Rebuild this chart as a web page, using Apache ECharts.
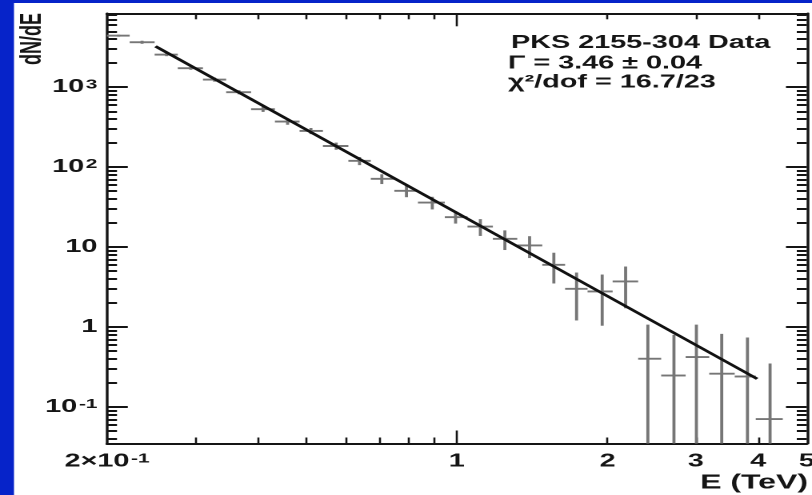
<!DOCTYPE html>
<html>
<head>
<meta charset="utf-8">
<title>PKS 2155-304 spectrum</title>
<script src="https://cdn.jsdelivr.net/npm/echarts@6/dist/echarts.min.js"></script>
<style>
  html, body { margin: 0; padding: 0; overflow: hidden; background: #0623c9; }
  /* the figure is laid out narrow and widened horizontally, like the slide it comes from */
  #chart { position: absolute; left: 0; top: 0; width: 507.5px; height: 495px;
           transform: scaleX(1.6); transform-origin: 0 0; }
</style>
</head>
<body>
<div id="chart"></div>
<script>
const STRETCH = 1.6;
const FONT = '"Liberation Sans", Arial, Helvetica, sans-serif';

// axis ranges (TeV, dN/dE)
const X_MIN = 0.2, X_MAX = 5;
const Y_MIN = 0.035, Y_MAX = 8400;

// measured spectrum: bin centre, bin edges, flux and its error
const energy  = [0.211, 0.235, 0.263, 0.294, 0.328, 0.367, 0.410, 0.459, 0.511, 0.574,
                 0.639, 0.708, 0.793, 0.893, 0.994, 1.114, 1.247, 1.397, 1.562, 1.734,
                 1.951, 2.173, 2.407, 2.714, 3.009, 3.381, 3.806, 4.223];
const binLow  = [0.199, 0.222, 0.249, 0.277, 0.311, 0.346, 0.388, 0.433, 0.485, 0.540,
                 0.607, 0.673, 0.750, 0.836, 0.946, 1.050, 1.180, 1.320, 1.481, 1.645,
                 1.824, 2.047, 2.302, 2.559, 2.864, 3.192, 3.589, 3.954];
const binHigh = [0.222, 0.249, 0.277, 0.311, 0.346, 0.388, 0.433, 0.485, 0.540, 0.607,
                 0.673, 0.750, 0.836, 0.946, 1.050, 1.180, 1.320, 1.481, 1.645, 1.824,
                 2.047, 2.302, 2.559, 2.864, 3.192, 3.589, 3.954, 4.477];
const flux    = [4416, 3651, 2556, 1728, 1245, 866, 531, 372, 284, 184,
                 120, 71.5, 50.6, 36.1, 23.7, 18.1, 12.7, 10.5, 6.01, 3.01,
                 2.79, 3.72, 0.402, 0.248, 0.422, 0.261, 0.241, 0.0708];
const fluxErr = [130, 160, 112, 76, 72, 51, 40, 33, 25, 19,
                 14, 10, 8.5, 6.5, 4.0, 4.3, 3.5, 3.2, 2.5, 1.8,
                 1.75, 2.0, 0.67, 0.55, 0.65, 0.56, 0.50, 0.28];

// power-law fit  dN/dE = N0 * E^-Gamma
const photonIndex = 3.46;
const fluxAt1TeV = 26.8;
const fitRange = [0.25, 3.98];

// tick marks and labels
const xLabelValues = [0.2, 1, 2, 3, 4, 5];
const xLabelTexts  = ['2×10{s|-1}', '1', '2', '3', '4', '5'];
const xMajorTicks  = [1];
const xMinorTicks  = [0.3, 0.4, 0.5, 0.6, 0.7, 0.8, 0.9, 2, 3, 4];
const yLabelValues = [0.1, 1, 10, 100, 1000];
const yLabelTexts  = ['10{s|-1}', '1', '10', '10{s|2}', '10{s|3}'];
const yMajorTicks  = [0.1, 1, 10, 100, 1000];
const yMinorTicks  = [];
[0.01, 0.1, 1, 10, 100, 1000].forEach(function (decade) {
  for (let k = 2; k <= 9; k++) {
    const v = +(k * decade).toPrecision(3);
    if (v > Y_MIN && v < Y_MAX) yMinorTicks.push(v);
  }
});

const errorRows = energy.map(function (e, i) {
  return [e, flux[i], binLow[i], binHigh[i], fluxErr[i]];
});
const fitLine = fitRange.map(function (e) {
  return [e, fluxAt1TeV * Math.pow(e, -photonIndex)];
});

const INK = '#151515';
const labelRich = {
  s: { fontSize: 13, fontWeight: 'bold', fontFamily: FONT, color: INK, verticalAlign: 'top', padding: [0, 0, 0, 1] }
};

function lookupLabel(values, texts) {
  return function (v) {
    for (let i = 0; i < values.length; i++) {
      if (Math.abs(Math.log10(values[i]) - v) < 1e-6) return texts[i];
    }
    return '';
  };
}

// helper axes laid out in log10 space, used only to place tick marks and labels
function tickAxis(position, lo, hi, ticks, len, tickWidth, opts) {
  opts = opts || {};
  return {
    type: 'value',
    position: position,
    gridIndex: 0,
    min: Math.log10(lo),
    max: Math.log10(hi),
    splitLine: { show: false },
    minorTick: { show: false },
    axisLine: { show: !!opts.line, onZero: false, lineStyle: { color: INK, width: opts.lineWidth || 2 } },
    axisTick: {
      show: true, inside: true, length: len,
      customValues: ticks.map(Math.log10),
      lineStyle: { color: INK, width: tickWidth }
    },
    axisLabel: opts.labels ? {
      show: true,
      customValues: opts.labels.values.map(Math.log10),
      formatter: lookupLabel(opts.labels.values, opts.labels.texts),
      margin: opts.labels.margin,
      fontSize: 18, fontWeight: 'bold', fontFamily: FONT, color: INK,
      rich: labelRich
    } : { show: false }
  };
}

const chart = echarts.init(document.getElementById('chart'), null, { renderer: 'canvas', devicePixelRatio: 2 });

chart.setOption({
  animation: false,
  backgroundColor: '#0623c9',
  grid: {
    left: 107 / STRETCH, right: 6 / STRETCH, top: 13.3, bottom: 51.5,
    containLabel: false, outerBoundsMode: 'none'
  },
  graphic: [
    { type: 'rect', z: -100, silent: true,
      shape: { x: 14 / STRETCH, y: 3, width: 600, height: 600 },
      style: { fill: '#ffffff' } },
    { type: 'text', z: 100, x: 33 / STRETCH, y: 13, rotation: Math.PI / 2,
      style: { text: 'dN/dE', fill: INK, font: 'bold 18px ' + FONT, align: 'right', verticalAlign: 'middle' } },
    { type: 'text', z: 100, x: 808 / STRETCH, y: 483,
      style: { text: 'E (TeV)', fill: INK, font: 'bold 20px ' + FONT, align: 'right', verticalAlign: 'middle' } },
    { type: 'text', z: 100, x: 511 / STRETCH, y: 43,
      style: { text: 'PKS 2155-304 Data', fill: INK, font: 'bold 18px ' + FONT, align: 'left', verticalAlign: 'middle' } },
    { type: 'text', z: 100, x: 508 / STRETCH, y: 63.5,
      style: { text: 'Γ = 3.46 ± 0.04', fill: INK, font: 'bold 18px ' + FONT, align: 'left', verticalAlign: 'middle' } },
    { type: 'text', z: 100, x: 508 / STRETCH, y: 82.5,
      style: { text: 'χ²/dof = 16.7/23', fill: INK, font: 'bold 18px ' + FONT, align: 'left', verticalAlign: 'middle' } }
  ],
  xAxis: [
    { type: 'log', logBase: 10, position: 'bottom', gridIndex: 0, min: X_MIN, max: X_MAX,
      axisLine: { show: true, onZero: false, lineStyle: { color: INK, width: 2 } },
      axisTick: { show: false }, axisLabel: { show: false },
      splitLine: { show: false }, minorTick: { show: false } },
    tickAxis('bottom', X_MIN, X_MAX, xMajorTicks, 13, 1.3,
      { labels: { values: xLabelValues, texts: xLabelTexts, margin: 9 } }),
    tickAxis('bottom', X_MIN, X_MAX, xMinorTicks, 6, 1.3),
    tickAxis('top', X_MIN, X_MAX, xMajorTicks, 13, 1.3, { line: true, lineWidth: 2 }),
    tickAxis('top', X_MIN, X_MAX, xMinorTicks, 6, 1.3)
  ],
  yAxis: [
    { type: 'log', logBase: 10, position: 'left', gridIndex: 0, min: Y_MIN, max: Y_MAX,
      axisLine: { show: true, onZero: false, lineStyle: { color: INK, width: 1.7 } },
      axisTick: { show: false }, axisLabel: { show: false },
      splitLine: { show: false }, minorTick: { show: false } },
    tickAxis('left', Y_MIN, Y_MAX, yMajorTicks, 13, 2,
      { labels: { values: yLabelValues, texts: yLabelTexts, margin: 6 } }),
    tickAxis('left', Y_MIN, Y_MAX, yMinorTicks, 6.25, 2),
    tickAxis('right', Y_MIN, Y_MAX, yMajorTicks, 13, 2, { line: true, lineWidth: 1.7 }),
    tickAxis('right', Y_MIN, Y_MAX, yMinorTicks, 6.25, 2)
  ],
  series: [
    {
      name: 'PKS 2155-304',
      type: 'custom',
      xAxisIndex: 0, yAxisIndex: 0,
      z: 3,
      data: errorRows,
      encode: { x: 0, y: 1 },
      renderItem: function (params, api) {
        const e = api.value(0), f = api.value(1);
        const lo = Math.max(api.value(2), X_MIN), hi = Math.min(api.value(3), X_MAX);
        const err = api.value(4);
        const pL = api.coord([lo, f]), pR = api.coord([hi, f]);
        const pB = api.coord([e, Math.max(f - err, Y_MIN)]);
        const pT = api.coord([e, Math.min(f + err, Y_MAX)]);
        const style = { stroke: '#767676', lineWidth: 1.9 };
        return {
          type: 'group',
          children: [
            { type: 'line', shape: { x1: pL[0], y1: pL[1], x2: pR[0], y2: pR[1] }, style: style },
            { type: 'line', shape: { x1: pB[0], y1: pB[1], x2: pT[0], y2: pT[1] }, style: style }
          ]
        };
      }
    },
    {
      name: 'power-law fit',
      type: 'line',
      xAxisIndex: 0, yAxisIndex: 0,
      z: 5,
      data: fitLine,
      symbol: 'none',
      lineStyle: { color: '#111111', width: 2.4 }
    }
  ]
});
</script>
</body>
</html>
